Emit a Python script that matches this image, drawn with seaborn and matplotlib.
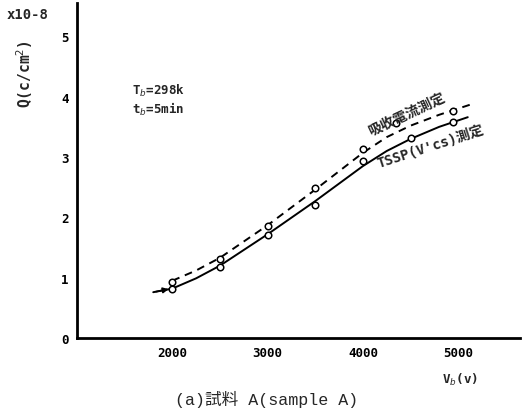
import matplotlib
matplotlib.use("Agg")
import matplotlib.pyplot as plt
import seaborn as sns
import pandas as pd

# ---- data ----
x_ticks = [2000, 3000, 4000, 5000]
y_ticks = [0, 1, 2, 3, 4, 5]

# measured points
tssp_x = [2000, 2500, 3000, 3500, 4000, 4500, 4950]
tssp_y = [0.81, 1.18, 1.71, 2.20, 2.93, 3.31, 3.58]
absorb_x = [2000, 2500, 3000, 3500, 4000, 4350, 4950]
absorb_y = [0.93, 1.31, 1.85, 2.48, 3.13, 3.57, 3.76]

# drawn curves
tssp_curve_x = [1800, 2000, 2250, 2500, 3000, 3500, 4000, 4250, 4500, 4800, 5100]
tssp_curve_y = [0.76, 0.82, 0.99, 1.20, 1.72, 2.27, 2.85, 3.10, 3.30, 3.50, 3.66]
absorb_curve_x = [2000, 2250, 2500, 3000, 3500, 4000, 4250, 4500, 4800, 5130]
absorb_curve_y = [0.95, 1.12, 1.33, 1.87, 2.46, 3.07, 3.33, 3.52, 3.70, 3.87]

sns.set_style("white")
plt.rcParams["font.family"] = ["DejaVu Sans Mono", "Noto Sans CJK JP"]

fig = plt.figure(figsize=(5.22, 4.14), dpi=100)
ax = fig.add_axes([0.1475, 0.181, 0.849, 0.809])

df_t = pd.DataFrame({"x": tssp_curve_x, "y": tssp_curve_y})
df_a = pd.DataFrame({"x": absorb_curve_x, "y": absorb_curve_y})
sns.lineplot(data=df_t, x="x", y="y", ax=ax, color="black", lw=1.4, sort=False)
sns.lineplot(data=df_a, x="x", y="y", ax=ax, color="black", lw=1.4, sort=False,
             linestyle=(0, (4, 3)))

pts_t = pd.DataFrame({"x": tssp_x, "y": tssp_y})
pts_a = pd.DataFrame({"x": absorb_x, "y": absorb_y})
for d in (pts_t, pts_a):
    sns.scatterplot(data=d, x="x", y="y", ax=ax, marker="o", s=22,
                    facecolor="white", edgecolor="black", linewidth=1.1, zorder=5)

# arrow at start of solid curve
ax.annotate("", xy=(1990, 0.82), xytext=(1800, 0.76),
            arrowprops=dict(arrowstyle="-|>", color="black", lw=1.2,
                            mutation_scale=8))

ax.set_xlim(1000, 5650)
ax.set_ylim(0, 5.55)
ax.set_xticks(x_ticks)
ax.set_yticks(y_ticks)
ax.set_xticklabels([str(v) for v in x_ticks], fontsize=9, fontweight="bold")
ax.set_yticklabels([str(v) for v in y_ticks], fontsize=9, fontweight="bold")
ax.tick_params(direction="in", length=6, width=1.4, pad=6, colors="black")
for s in ("top", "right"):
    ax.spines[s].set_visible(False)
for s in ("left", "bottom"):
    ax.spines[s].set_linewidth(2)
    ax.spines[s].set_color("black")
ax.set_xlabel("")
ax.set_ylabel("")

# texts
fig.text(0.013, 0.963, "x10-8", fontsize=10, fontweight="bold", ha="left", va="center")
fig.text(0.048, 0.82, "Q(c/cm$^2$)", fontsize=10.5, fontweight="bold", rotation=90,
         ha="center", va="center")
fig.text(0.253, 0.78, "T$_b$=298k", fontsize=9, fontweight="bold", ha="left", va="center")
fig.text(0.253, 0.735, "t$_b$=5min", fontsize=9, fontweight="bold", ha="left", va="center")
fig.text(0.778, 0.722, "吸收電流測定", fontsize=10, rotation=25,
         ha="center", va="center", fontweight="bold")
fig.text(0.825, 0.645, "TSSP(V'cs)測定", fontsize=10, rotation=18,
         ha="center", va="center", fontweight="bold")
fig.text(0.881, 0.082, "V$_b$(v)", fontsize=9, fontweight="bold", ha="center", va="center")
fig.text(0.51, 0.034, "(a)試料 A(sample A)", fontsize=12,
         family=["Liberation Mono", "Noto Sans CJK JP"], ha="center", va="center")

fig.savefig("out.png", dpi=100)
